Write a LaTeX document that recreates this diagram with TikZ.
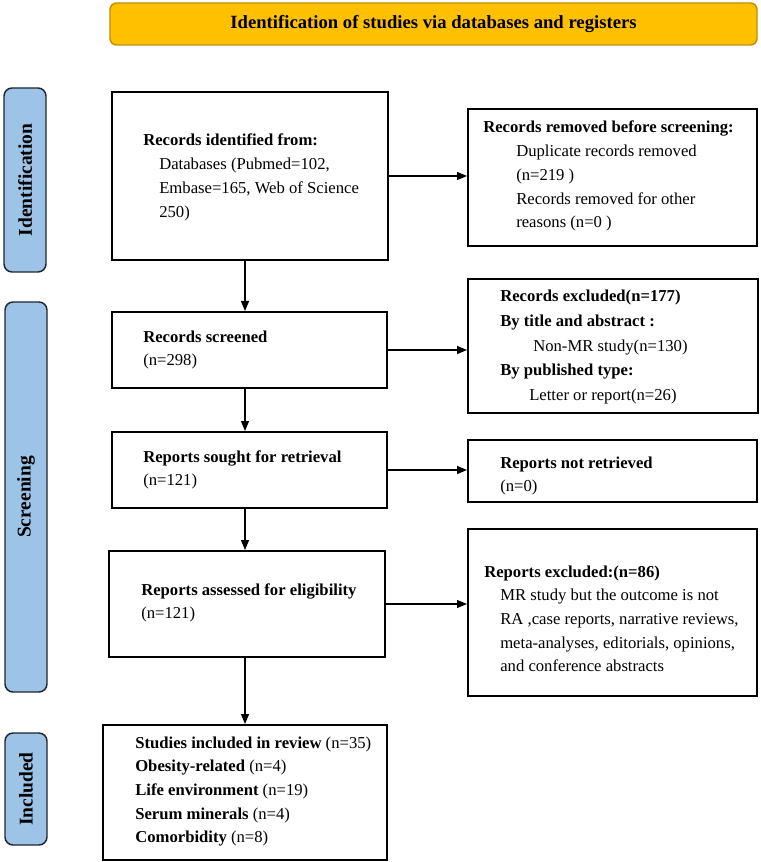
\documentclass[tikz,border=0pt]{standalone}
\usepackage{fontspec}
\setmainfont{Liberation Serif}
\usetikzlibrary{arrows.meta,calc,fit}
\definecolor{gold}{HTML}{FFC000}
\definecolor{goldline}{HTML}{BF9000}
\definecolor{lblue}{HTML}{9DC3E6}
\definecolor{navy}{HTML}{1E2630}
\begin{document}
\begin{tikzpicture}[x=0.75pt,y=-0.75pt,
  box/.style={draw=black, line width=1.5pt, inner sep=0pt},
  titlebox/.style={draw=goldline, fill=gold, line width=1.1pt, rounded corners=5pt, inner sep=0pt},
  lab/.style={draw=navy, fill=lblue, line width=1.1pt, rounded corners=6pt, inner sep=0pt},
  labtext/.style={rotate=90, font=\fontsize{14.6}{17}\selectfont\bfseries, inner sep=0pt},
  txt/.style={anchor=base west, inner sep=0pt, font=\fontsize{12.5}{17.8}\selectfont},
  arr/.style={-{Triangle[length=7.5pt,width=6pt]}, line width=0.9pt}]
\useasboundingbox (0,0) rectangle (760,862);

% title
\node[titlebox, fit={(110,3) (757,45)}] (title) {};
\node[font=\fontsize{14}{16}\selectfont\bfseries, inner sep=0pt] (titlet) at (title.center) {Identification of studies via databases and registers};

% side labels
\node[lab, fit={(4,88) (46,272)}] (l1) {};
\node[labtext] (l1t) at (l1.center) {Identification};
\node[lab, fit={(5,302) (47,692)}] (l2) {};
\node[labtext] (l2t) at (l2.center) {Screening};
\node[lab, fit={(5,733) (47,845)}] (l3) {};
\node[labtext] (l3t) at (l3.center) {Included};

% boxes
\node[box, fit={(112,92) (388,260)}] (b1) {};
\node[box, fit={(468,109) (757,246)}] (b2) {};
\node[box, fit={(112,312) (387,388)}] (b3) {};
\node[box, fit={(468,279) (758,413)}] (b4) {};
\node[box, fit={(112,432) (387,508)}] (b5) {};
\node[box, fit={(468,440) (757,502)}] (b6) {};
\node[box, fit={(109,551) (385,657)}] (b7) {};
\node[box, fit={(468,529) (757,696)}] (b8) {};
\node[box, fit={(103,725) (387,860)}] (b9) {};

% texts
\node[txt] (t1) at (143,146) {\begin{tabular}[t]{@{}l@{}}\textbf{Records identified from:}\\
\hspace*{12pt}Databases (Pubmed=102,\\
\hspace*{12pt}Embase=165, Web of Science\\
\hspace*{12pt}250)\end{tabular}};

\node[txt] (t2) at (483,133) {\begin{tabular}[t]{@{}l@{}}\textbf{Records removed before screening:}\\
\hspace*{24.75pt}Duplicate records removed\\
\hspace*{24.75pt}(n=219 )\\
\hspace*{24.75pt}Records removed for other\\
\hspace*{24.75pt}reasons (n=0 )\end{tabular}};

\node[txt] (t3) at (143,342) {\begin{tabular}[t]{@{}l@{}}\textbf{Records screened}\\
(n=298)\end{tabular}};

\node[txt, font=\fontsize{12.5}{18.4}\selectfont] (t4) at (500,302) {\begin{tabular}[t]{@{}l@{}}\textbf{Records excluded(n=177)}\\
\textbf{By title and abstract :}\\
\hspace*{24.75pt}Non-MR study(n=130)\\
\textbf{By published type:}\\
\hspace*{21.75pt}Letter or report(n=26)\end{tabular}};

\node[txt] (t5) at (143,462) {\begin{tabular}[t]{@{}l@{}}\textbf{Reports sought for retrieval}\\
(n=121)\end{tabular}};

\node[txt] (t6) at (500,468) {\begin{tabular}[t]{@{}l@{}}\textbf{Reports not retrieved}\\
(n=0)\end{tabular}};

\node[txt] (t7) at (141,595) {\begin{tabular}[t]{@{}l@{}}\textbf{Reports assessed for eligibility}\\
(n=121)\end{tabular}};

\node[txt] (t8) at (484,577) {\begin{tabular}[t]{@{}l@{}}\textbf{Reports excluded:(n=86)}\\
\hspace*{12pt}MR study but the outcome is not\\
\hspace*{12pt}RA ,case reports, narrative reviews,\\
\hspace*{12pt}meta-analyses, editorials, opinions,\\
\hspace*{12pt}and conference abstracts\end{tabular}};

\node[txt] (t9) at (135,748) {\begin{tabular}[t]{@{}l@{}}\textbf{Studies included in review} (n=35)\\
\textbf{Obesity-related} (n=4)\\
\textbf{Life environment} (n=19)\\
\textbf{Serum minerals} (n=4)\\
\textbf{Comorbidity} (n=8)\end{tabular}};

% arrows
\draw[arr] (b1.east) -- (b1.east -| b2.west);
\draw[arr] (b3.east) -- (b3.east -| b4.west);
\draw[arr] (b5.east) -- (b5.east -| b6.west);
\draw[arr] (b7.east) -- (b7.east -| b8.west);
\draw[arr] (b1.south -| b9.north) -- (b3.north -| b9.north);
\draw[arr] (b3.south -| b9.north) -- (b5.north -| b9.north);
\draw[arr] (b5.south -| b9.north) -- (b7.north -| b9.north);
\draw[arr] (b7.south -| b9.north) -- (b9.north);
\end{tikzpicture}
\end{document}
